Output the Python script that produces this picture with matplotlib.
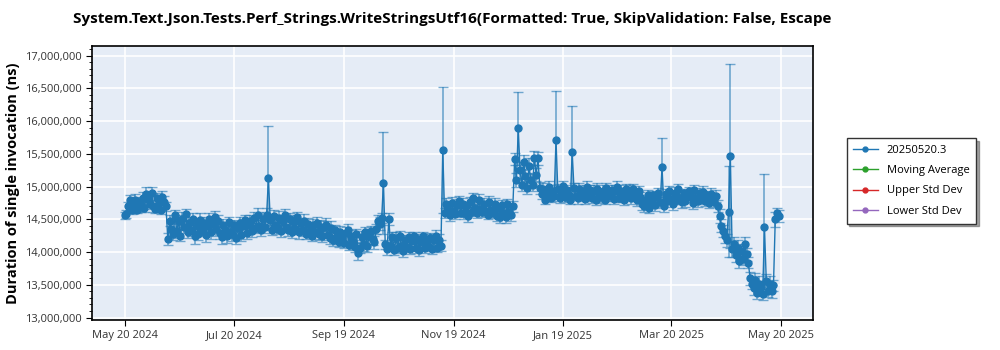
import matplotlib
matplotlib.use('Agg')
from matplotlib import pyplot as plt
from matplotlib.lines import Line2D
import matplotlib.dates as mdates
from matplotlib.ticker import FuncFormatter, MultipleLocator
import numpy as np
import pandas as pd

# one run per day, 2024-05-20 .. 2025-05-19 (values in thousands of ns)
start_date = '2024-05-20'

durations_k = [
    14560, 14580, 14700, 14790, 14640, 14720, 14800, 14650, 14760, 14690,
    14830, 14680, 14880, 14810, 14730, 14900, 14700, 14660, 14820, 14750,
    14650, 14840, 14770, 14700, 14200, 14480, 14350, 14270, 14560, 14320,
    14470, 14250, 14510, 14380, 14580, 14300, 14440, 14330, 14500, 14240,
    14410, 14280, 14490, 14320, 14450, 14260, 14400, 14500, 14300, 14430,
    14540, 14350, 14480, 14290, 14230, 14420, 14330, 14250, 14460, 14310,
    14270, 14410, 14220, 14370, 14450, 14260, 14400, 14490, 14290, 14420,
    14480, 14320, 14520, 14370, 14560, 14400, 14330, 14510, 14380, 14570,
    15130, 14490, 14340, 14550, 14410, 14360, 14520, 14320, 14480, 14560,
    14390, 14330, 14500, 14310, 14460, 14350, 14530, 14300, 14440, 14330,
    14480, 14280, 14430, 14320, 14250, 14410, 14300, 14450, 14270, 14390,
    14240, 14380, 14420, 14260, 14220, 14370, 14180, 14330, 14230, 14160,
    14310, 14200, 14140, 14290, 14330, 14110, 14250, 14160, 14080, 14270,
    13980, 14060, 14230, 14120, 14300, 14090, 14250, 14320, 14200, 14150,
    14350, 14470, 14430, 14520, 15060, 14120, 14040, 14500, 14090, 14230,
    14030, 14210, 14070, 14250, 14100, 14020, 14190, 14080, 14230, 14050,
    14170, 14240, 14060, 14200, 14030, 14160, 14240, 14060, 14190, 14090,
    14210, 14040, 14180, 14250, 14070, 14190, 14100, 15560, 14600, 14730,
    14640, 14560, 14750, 14630, 14580, 14720, 14780, 14600, 14730, 14590,
    14700, 14550, 14760, 14620, 14820, 14680, 14590, 14790, 14660, 14610,
    14740, 14630, 14570, 14760, 14650, 14590, 14730, 14550, 14680, 14530,
    14720, 14590, 14540, 14730, 14610, 14570, 14700, 15420, 15100, 15890,
    15250, 15030, 15370, 15160, 14980, 15310, 15100, 15030, 15440, 15180,
    15430, 14980, 14880, 14970, 14800, 14900, 14990, 14830, 14940, 14850,
    15710, 14960, 14820, 14920, 15010, 14840, 14950, 14870, 14800, 15530,
    14980, 14860, 14820, 14960, 14850, 14940, 14810, 14990, 14860, 14950,
    14830, 14930, 14790, 14970, 14870, 14840, 14940, 14800, 14980, 14870,
    14850, 14950, 14810, 14930, 15000, 14830, 14940, 14860, 14790, 14960,
    14850, 14930, 14820, 14970, 14860, 14800, 14940, 14840, 14740, 14700,
    14790, 14870, 14680, 14770, 14870, 14720, 14840, 14910, 14760, 15300,
    14700, 14890, 14780, 14930, 14810, 14740, 14910, 14800, 14960, 14830,
    14760, 14900, 14780, 14870, 14930, 14840, 14750, 14950, 14830, 14780,
    14900, 14810, 14920, 14780, 14870, 14750, 14890, 14800, 14770, 14860,
    14700, 14550, 14400, 14320, 14250, 14180, 14620, 15470, 14050, 14120,
    13950, 14060, 13870, 14020, 13900, 14120, 13970, 13840, 13600, 13520,
    13450, 13580, 13380, 13520, 13460, 13360, 14380, 13560, 13410, 13520,
    13400, 13490, 14500, 14600, 14550,
]

errors_k = [
    50, 60, 70, 80, 60, 70, 90, 60, 80, 70,
    90, 70, 110, 80, 70, 100, 80, 70, 90, 60,
    70, 90, 80, 70, 90, 80, 100, 90, 80, 110,
    90, 80, 100, 90, 80, 90, 100, 80, 90, 110,
    80, 90, 100, 80, 90, 110, 80, 90, 100, 80,
    90, 100, 80, 90, 100, 80, 90, 110, 80, 90,
    100, 80, 90, 100, 80, 90, 110, 80, 90, 100,
    80, 90, 100, 80, 110, 90, 80, 100, 90, 110,
    790, 90, 80, 100, 90, 80, 110, 90, 80, 100,
    90, 80, 100, 90, 110, 80, 90, 100, 80, 90,
    100, 80, 90, 110, 80, 90, 100, 80, 90, 100,
    80, 90, 100, 80, 90, 110, 80, 90, 100, 80,
    90, 100, 80, 90, 100, 80, 90, 110, 80, 90,
    100, 80, 90, 100, 80, 90, 100, 80, 90, 100,
    80, 90, 100, 80, 780, 70, 80, 90, 70, 80,
    70, 90, 80, 70, 80, 90, 70, 80, 70, 80,
    90, 70, 80, 70, 90, 80, 70, 80, 90, 70,
    80, 70, 90, 80, 70, 80, 90, 960, 80, 90,
    70, 80, 90, 70, 80, 90, 80, 70, 90, 80,
    70, 90, 80, 70, 90, 80, 70, 90, 80, 70,
    90, 80, 70, 90, 80, 70, 90, 80, 70, 90,
    80, 70, 90, 80, 70, 90, 80, 90, 110, 560,
    130, 100, 120, 110, 100, 120, 110, 100, 110, 100,
    100, 90, 70, 80, 70, 80, 90, 70, 80, 70,
    750, 80, 70, 90, 80, 70, 80, 90, 70, 700,
    80, 70, 80, 90, 70, 80, 70, 90, 80, 70,
    80, 90, 70, 80, 70, 90, 80, 70, 80, 90,
    70, 80, 70, 90, 80, 70, 80, 90, 70, 80,
    70, 90, 80, 70, 80, 90, 70, 80, 90, 80,
    70, 80, 90, 80, 70, 90, 80, 70, 80, 450,
    80, 70, 90, 80, 70, 90, 80, 70, 80, 90,
    80, 70, 90, 80, 70, 80, 90, 70, 80, 90,
    80, 70, 90, 80, 70, 80, 90, 70, 80, 90,
    90, 110, 100, 90, 110, 100, 690, 1400, 120, 110,
    100, 120, 110, 100, 90, 110, 100, 90, 100, 90,
    110, 100, 90, 110, 100, 90, 820, 100, 90, 110,
    100, 90, 110, 80, 90,
]

series_label = '20250520.3'
legend_labels = ['Moving Average', 'Upper Std Dev', 'Lower Std Dev']
legend_colors = ['#2ca02c', '#d62728', '#9467bd']

tick_dates = ['2024-05-20', '2024-07-20', '2024-09-19', '2024-11-19',
              '2025-01-19', '2025-03-20', '2025-05-20']

title = ('System.Text.Json.Tests.Perf_Strings.WriteStringsUtf16(Formatted: True, '
         'SkipValidation: False, Escape')


def main():
    plt.rcParams['font.family'] = ['Open Sans', 'DejaVu Sans']

    dates = pd.date_range(start_date, periods=len(durations_k), freq='D')
    y = np.array(durations_k) * 1000.0
    err = np.array(errors_k) * 1000.0

    fig = plt.figure(figsize=(10, 3.5), dpi=100)
    ax = fig.add_axes([0.0923, 0.087, 0.7207, 0.7817])
    ax.set_facecolor('#e5ecf6')

    blue = '#1f77b4'
    eb = ax.errorbar(dates, y, yerr=err, fmt='-o', color=blue, markersize=5,
                     linewidth=1.0, ecolor=blue, elinewidth=1.2, capsize=3.5,
                     zorder=3)
    for c in eb[2]:
        c.set_alpha(0.6)
    for c in eb[1]:
        c.set_alpha(0.6)

    ax.set_xlim(pd.Timestamp('2024-05-02'), pd.Timestamp('2025-06-07'))
    ax.set_ylim(12970000, 17148000)

    ax.set_xticks([pd.Timestamp(d) for d in tick_dates])
    ax.xaxis.set_major_formatter(mdates.DateFormatter('%b %d %Y'))
    ax.yaxis.set_major_locator(MultipleLocator(500000))
    ax.yaxis.set_minor_locator(MultipleLocator(100000))
    ax.yaxis.set_major_formatter(FuncFormatter(lambda v, p: '{:,.0f}'.format(v)))

    ax.grid(True, which='major', color='white', linewidth=1.2)
    ax.set_axisbelow(True)
    ax.tick_params(axis='both', which='major', labelsize=8, labelcolor='#333333',
                   length=4, color='black')
    ax.tick_params(axis='y', which='minor', length=2, color='black')
    for s in ax.spines.values():
        s.set_color('black')
        s.set_linewidth(1.2)

    ax.set_ylabel('Duration of single invocation (ns)', fontsize=10.5,
                  fontweight='bold', labelpad=4)
    fig.text(0.4525, 0.945, title, ha='center', va='center', fontsize=11,
             fontweight='bold')

    handles = [Line2D([], [], color=blue, marker='o', markersize=3.5, linewidth=1)]
    for col in legend_colors:
        handles.append(Line2D([], [], color=col, marker='o', markersize=3.5, linewidth=1))
    labels = [series_label] + legend_labels
    leg = fig.legend(handles, labels, loc='upper left', bbox_to_anchor=(0.841, 0.622),
                     fontsize=8, frameon=True, fancybox=False, shadow=True,
                     handlelength=2.2, borderpad=0.6, labelspacing=0.85)
    leg.get_frame().set_edgecolor('#333333')
    leg.get_frame().set_linewidth(1.0)

    plt.savefig('out.png', dpi=100)


if __name__ == '__main__':
    main()
